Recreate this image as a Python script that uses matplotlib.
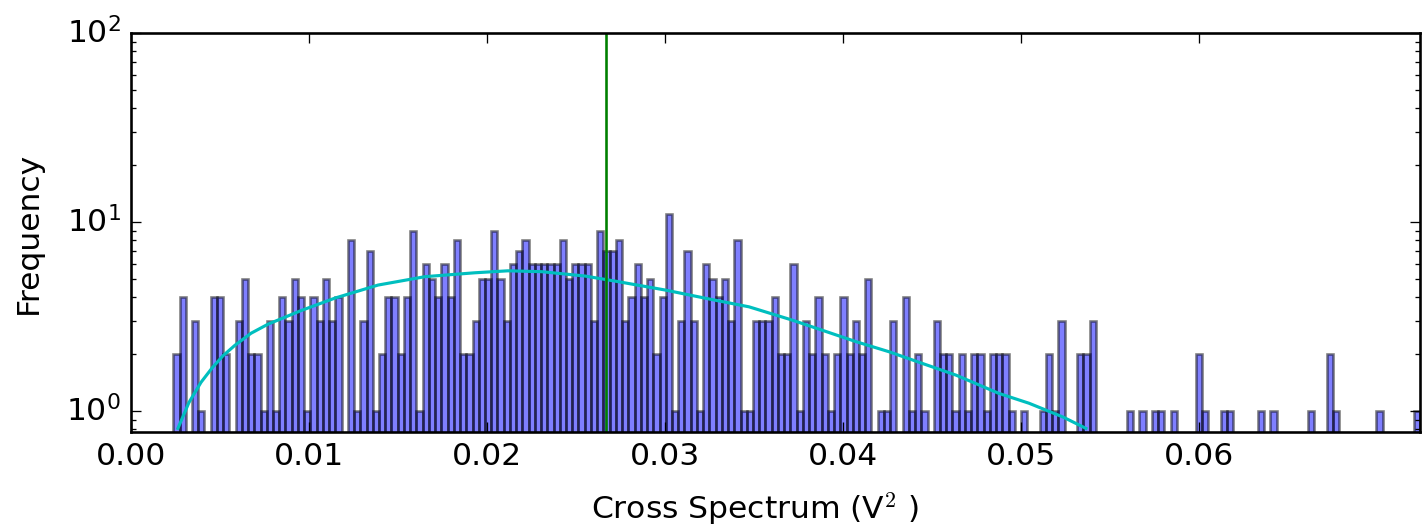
import numpy as np
import matplotlib
matplotlib.use("Agg")
import matplotlib.pyplot as plt

# histogram of cross-spectrum values: 200 equal bins
bin_lo = 0.00235
bin_hi = 0.07243
counts = [
    2, 4, 0, 3, 1, 0, 4, 4, 2, 0,
    3, 5, 2, 2, 1, 3, 1, 4, 3, 5,
    4, 1, 4, 3, 5, 3, 4, 0, 8, 1,
    3, 7, 1, 2, 4, 4, 2, 4, 9, 1,
    6, 5, 4, 6, 4, 8, 2, 2, 3, 5,
    5, 9, 5, 3, 6, 7, 8, 6, 6, 6,
    6, 6, 8, 5, 6, 6, 6, 3, 9, 7,
    7, 8, 3, 4, 6, 4, 5, 2, 4, 11,
    1, 3, 7, 3, 1, 6, 5, 4, 5, 3,
    8, 1, 1, 3, 3, 3, 4, 2, 2, 6,
    1, 3, 2, 4, 2, 1, 2, 4, 2, 3,
    2, 5, 0, 1, 1, 3, 0, 4, 1, 2,
    1, 0, 3, 2, 2, 1, 2, 1, 2, 2,
    1, 2, 2, 2, 1, 0, 1, 0, 0, 1,
    2, 1, 3, 0, 0, 2, 2, 3, 0, 0,
    0, 0, 0, 1, 0, 1, 0, 1, 1, 0,
    1, 0, 0, 0, 2, 1, 0, 0, 1, 1,
    0, 0, 0, 0, 1, 0, 1, 0, 0, 0,
    0, 0, 1, 0, 0, 2, 1, 0, 0, 0,
    0, 0, 0, 1, 0, 0, 0, 0, 0, 1,
]

# fitted distribution (scaled to counts)
fit_x = [0.00261, 0.00323, 0.00391, 0.00453, 0.00514, 0.00582, 0.00672,
         0.00767, 0.00953, 0.01144, 0.01386, 0.01650, 0.01931, 0.02116,
         0.02307, 0.02549, 0.02718, 0.02999, 0.03280, 0.03471, 0.03713,
         0.03881, 0.04072, 0.04258, 0.04443, 0.04634, 0.04876, 0.05045,
         0.05236, 0.05365]
fit_y = [0.81, 1.11, 1.42, 1.69, 1.96, 2.23, 2.58,
         2.88, 3.40, 3.96, 4.64, 5.14, 5.39, 5.52,
         5.46, 5.18, 4.87, 4.37, 3.86, 3.56, 3.03,
         2.68, 2.33, 2.06, 1.79, 1.55, 1.24, 1.10,
         0.93, 0.81]

threshold = 0.02667
xticks = [0.00, 0.01, 0.02, 0.03, 0.04, 0.05, 0.06]

plt.style.use("classic")
plt.rcParams["font.family"] = ["DejaVu Sans"]

fig = plt.figure(figsize=(1423 / 188, 529 / 188), dpi=188, facecolor="white")
ax = fig.add_axes([0.0924, 0.1834, 0.9055, 0.7542])

edges = np.linspace(bin_lo, bin_hi, len(counts) + 1)
centers = 0.5 * (edges[:-1] + edges[1:])
ax.hist(centers, bins=edges, weights=counts, log=True, color="b", alpha=0.5)
ax.plot(fit_x, fit_y, color="c", lw=1.2)
ax.axvline(threshold, color="g")

ax.set_yscale("log")
ax.set_xlim(0, bin_hi)
ax.set_ylim(0.775, 100)
ax.set_xticks(xticks)
ax.set_xlabel("Cross Spectrum (V$^2$ )", labelpad=8)
ax.xaxis.set_label_coords(0.484, -0.148)
ax.set_ylabel("Frequency", labelpad=9)

fig.savefig("out.png", dpi=188, facecolor="white")
